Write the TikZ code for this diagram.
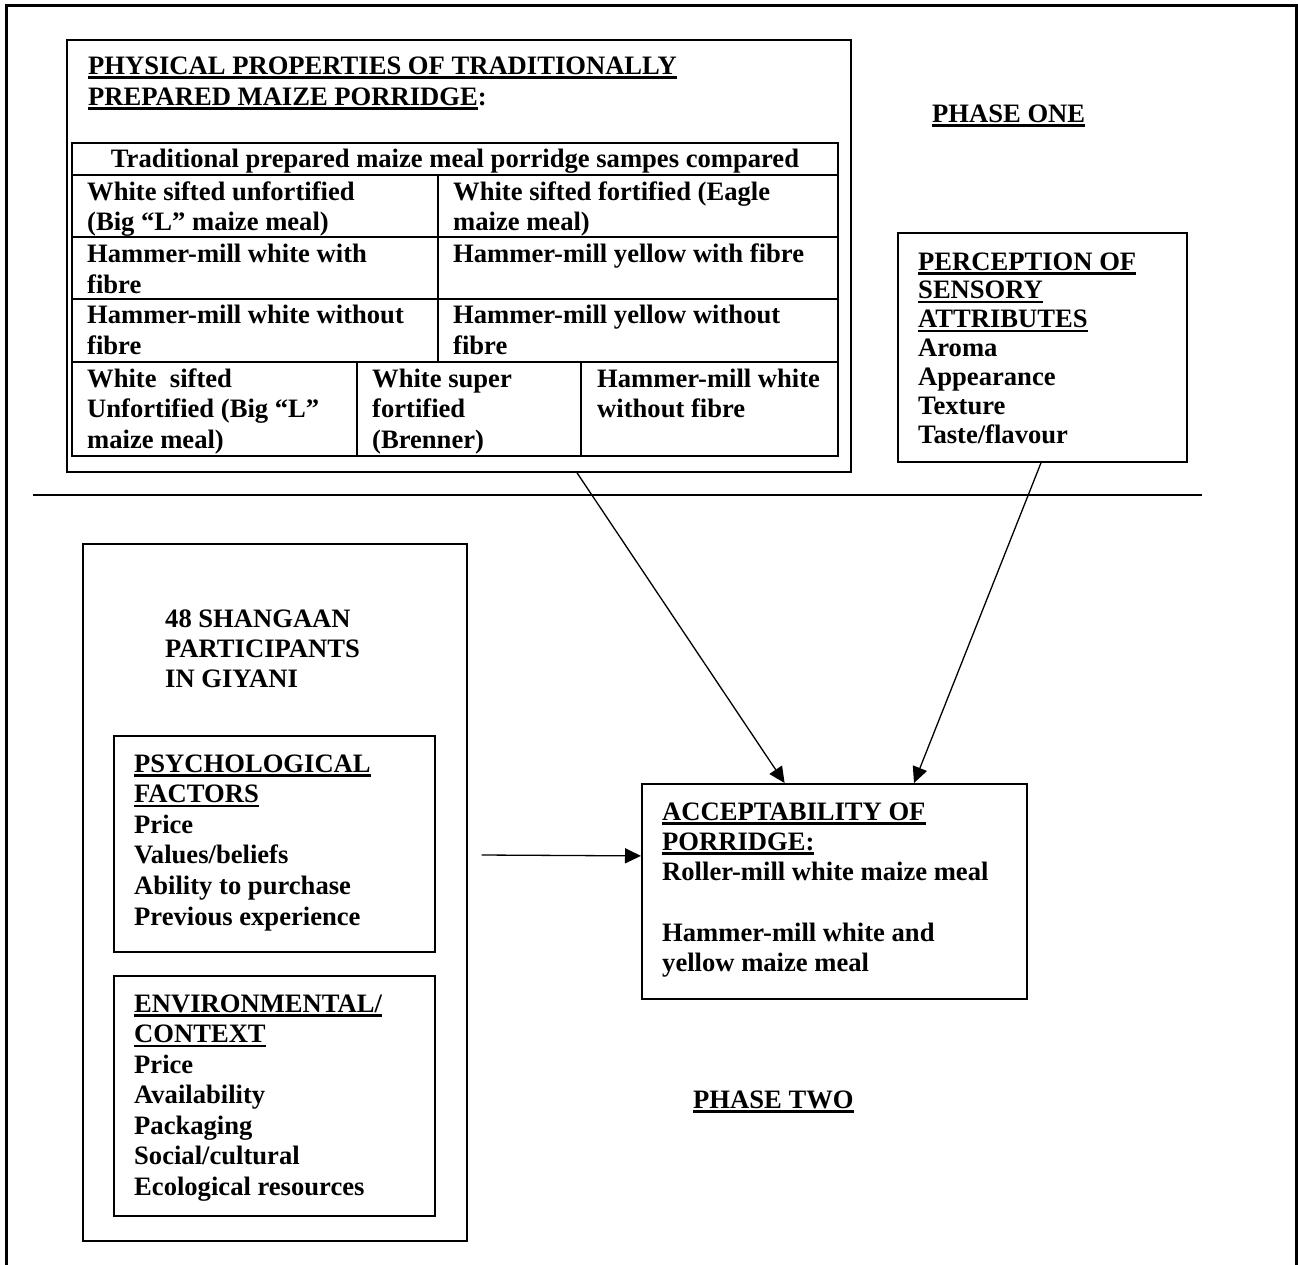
\documentclass[tikz,border=0pt]{standalone}
\usepackage{fontspec}
\setmainfont{Liberation Serif}
\usetikzlibrary{arrows.meta}
\newcommand\lns[2]{\vtop{\baselineskip=#1\relax\lineskiplimit=-50pt\lineskip=0pt\halign{##\hfil\cr#2\crcr}}}
\newcommand\ulx[1]{\setbox0=\hbox{#1}\rlap{\rule[-4.5pt]{\wd0}{2.5pt}}\box0}
\begin{document}
\begin{tikzpicture}[x=1pt,y=-1pt,
  every node/.style={inner sep=0pt, font=\fontsize{26.6}{30.5}\selectfont\bfseries},
  txt/.style={anchor=base west},
  box/.style={draw, line width=1.8pt, anchor=north west, minimum width=#1},
  gridline/.style={line width=1.8pt},
  conn/.style={line width=1.3pt, -{Triangle[length=16pt,width=15pt]}}]
\useasboundingbox (0,0) rectangle (1298,1264);
% outer frame
\draw[line width=3pt] (6.5,1270) -- (6.5,5.7) -- (1296,5.7) -- (1296,1270);
% phase separator
\coordinate (sepL) at (33,495);
\coordinate (sepR) at (1202,495);
\draw[line width=1.8pt] (sepL) -- (sepR);

% ---------- PHASE ONE ----------
\node[box=784pt, minimum height=432pt] (phys) at (66,39) {};
\node[txt] (physT) at (88,74) {\lns{31pt}{\ulx{PHYSICAL PROPERTIES OF TRADITIONALLY}\cr\ulx{PREPARED MAIZE PORRIDGE}:}};
% table grid
\draw[gridline] (72,143) rectangle (838,456);
\draw[gridline] (72,175) -- (838,175) (72,237) -- (838,237) (72,299) -- (838,299) (72,362) -- (838,362);
\draw[gridline] (437.6,175) -- (437.6,362);
\draw[gridline] (357,362) -- (357,456) (581,362) -- (581,456);
\node[anchor=base] (thead) at (455,167) {Traditional prepared maize meal porridge sampes compared};
\node[txt] (c21) at (87,200) {\lns{30.5pt}{White sifted unfortified\cr(Big ``L'' maize meal)}};
\node[txt] (c22) at (453,200) {\lns{30.5pt}{White sifted fortified (Eagle\cr maize meal)}};
\node[txt] (c31) at (87,262) {\lns{31pt}{Hammer-mill white with\cr fibre}};
\node[txt] (c32) at (453,262) {Hammer-mill yellow with fibre};
\node[txt] (c41) at (87,323) {\lns{31pt}{Hammer-mill white without\cr fibre}};
\node[txt] (c42) at (453,323) {\lns{31pt}{Hammer-mill yellow without\cr fibre}};
\node[txt] (c51) at (87,387) {\lns{30.5pt}{White\ \ sifted\cr Unfortified (Big ``L''\cr maize meal)}};
\node[txt] (c52) at (372,387) {\lns{30.5pt}{White super\cr fortified\cr (Brenner)}};
\node[txt] (c53) at (597,387) {\lns{30.5pt}{Hammer-mill white\cr without fibre}};

\node[txt] (phase1) at (932,122) {\ulx{PHASE ONE}};

\node[box=289pt, minimum height=229pt] (perc) at (897,232) {};
\node[txt] (percT) at (918,270) {\lns{28.9pt}{\ulx{PERCEPTION OF}\cr\ulx{SENSORY}\cr\ulx{ATTRIBUTES}\cr Aroma\cr Appearance\cr Texture\cr Taste/flavour}};

% ---------- PHASE TWO ----------
\node[box=384pt, minimum height=697pt] (part) at (82,543) {};
\node[txt] (partT) at (165,627) {\lns{30pt}{48 SHANGAAN\cr PARTICIPANTS\cr IN GIYANI}};

\node[box=321pt, minimum height=216pt] (psy) at (113,735) {};
\node[txt] (psyT) at (134,772) {\lns{30.6pt}{\ulx{PSYCHOLOGICAL}\cr\ulx{FACTORS}\cr Price\cr Values/beliefs\cr Ability to purchase\cr Previous experience}};

\node[box=321pt, minimum height=240pt] (env) at (113,975) {};
\node[txt] (envT) at (134,1012) {\lns{30.5pt}{\ulx{ENVIRONMENTAL/}\cr\ulx{CONTEXT}\cr Price\cr Availability\cr Packaging\cr Social/cultural\cr Ecological resources}};

\node[box=385pt, minimum height=215pt] (acc) at (641,783) {};
\node[txt] (accT) at (662,820) {\lns{30.3pt}{\ulx{ACCEPTABILITY OF}\cr\ulx{PORRIDGE:}\cr Roller-mill white maize meal\cr\strut\cr Hammer-mill white and\cr yellow maize meal}};

\node[txt] (phase2) at (693,1108) {\ulx{PHASE TWO}};

% ---------- connectors ----------
\coordinate (psyout) at (481.5,855);
\draw[conn] ([xshift=511pt]phys.south west) -- ([xshift=143.6pt]acc.north west);
\draw[conn] ([xshift=144pt]perc.south west) -- ([xshift=273pt]acc.north west);
\draw[conn] (psyout) -- ([yshift=35.5pt]acc.west);
\end{tikzpicture}
\end{document}
